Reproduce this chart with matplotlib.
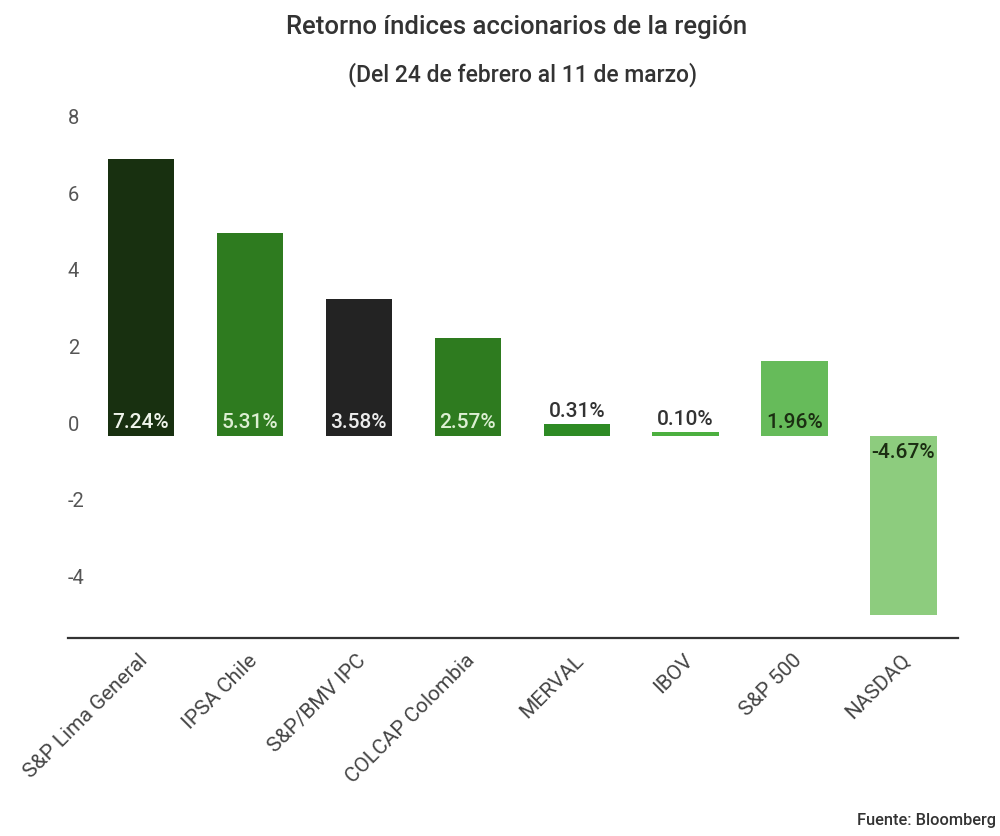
import numpy as np
import matplotlib.pyplot as plt
from matplotlib.transforms import ScaledTranslation

# Data ________________________________________________________________________
indices = ["S&P Lima General", "IPSA Chile", "S&P/BMV IPC", "COLCAP Colombia",
           "MERVAL", "IBOV", "S&P 500", "NASDAQ"]
returns = [7.24, 5.31, 3.58, 2.57, 0.31, 0.10, 1.96, -4.67]
y_ticks = [-4, -2, 0, 2, 4, 6, 8]

bar_colors = ["#183010", "#2e7b1f", "#232323", "#2e7b1f",
              "#2e8a24", "#4caf3f", "#66bb5a", "#8dcc7e"]
label_colors = ["#eef3ea", "#dcefd2", "#ececec", "#dcefd2",
                "#333333", "#333333", "#1b2e12", "#1b2e12"]

plt.rcParams['font.family'] = ['Roboto', 'DejaVu Sans']

fig = plt.figure(figsize=(10, 8.36), dpi=100)
ax = fig.add_axes([0.068, 0.2368, 0.89, 0.6352])

x = np.arange(len(indices))
ax.bar(x, returns, width=0.61, color=bar_colors)
ax.set_xlim(-0.67, 7.5)
ax.set_ylim(-5.28, 8.6)

# value labels
for xi, v, lc in zip(x, returns, label_colors):
    if v < 0:
        ax.annotate(f"{v:.2f}%", (xi, 0), xytext=(0, -11.5), textcoords='offset points',
                    ha='center', va='center', fontsize=15, fontweight='medium', color=lc)
    elif v > 1:
        ax.annotate(f"{v:.2f}%", (xi, 0), xytext=(0, 9.4), textcoords='offset points',
                    ha='center', va='center', fontsize=15, fontweight='medium', color=lc)
    else:
        ax.annotate(f"{v:.2f}%", (xi, v), xytext=(0, 9.4), textcoords='offset points',
                    ha='center', va='center', fontsize=15, fontweight='medium', color=lc)

# axes styling
for s in ['top', 'right', 'left']:
    ax.spines[s].set_visible(False)
ax.spines['bottom'].set_linewidth(1.6)
ax.spines['bottom'].set_color('#333333')

ax.set_yticks(y_ticks)
ax.set_yticklabels([str(t) for t in y_ticks])
ax.tick_params(axis='y', length=0, pad=0, labelsize=14.5, labelcolor='#555555')
shift = ScaledTranslation(0, 13 / 100, fig.dpi_scale_trans)
for lab in ax.get_yticklabels():
    lab.set_horizontalalignment('left')
    lab.set_transform(lab.get_transform() + shift)

ax.set_xticks(x)
ax.set_xticklabels(indices, rotation=45, ha='right', va='center', rotation_mode='anchor')
ax.tick_params(axis='x', length=0, pad=14, labelsize=15, labelcolor='#444444')
xshift = ScaledTranslation(4 / 100, 0, fig.dpi_scale_trans)
for lab in ax.get_xticklabels():
    lab.set_transform(lab.get_transform() + xshift)

fig.text(0.517, 1 - 27 / 836, "Retorno índices accionarios de la región", ha='center', va='center',
         fontsize=18.5, fontweight='medium', color='#333333')
fig.text(0.5225, 1 - 75 / 836, "(Del 24 de febrero al 11 de marzo)", ha='center', va='center',
         fontsize=16.5, fontweight='medium', color='#333333')
fig.text(0.996, 1 - 820 / 836, "Fuente: Bloomberg", ha='right', va='center',
         fontsize=11.8, fontweight='medium', color='#333333')

fig.savefig("out.png", dpi=100)
